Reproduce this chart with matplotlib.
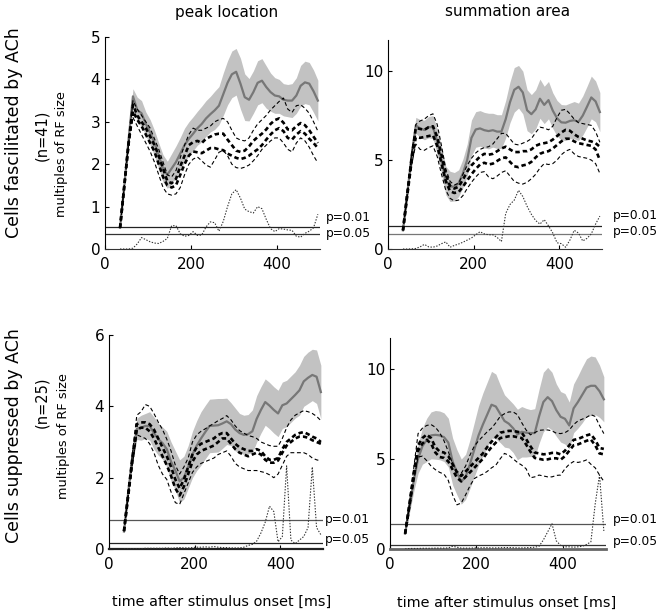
import numpy as np
import matplotlib
matplotlib.use("Agg")
import matplotlib.pyplot as plt

plt.rcParams["lines.scale_dashes"] = False
plt.rcParams["font.family"] = "DejaVu Sans"

# time after stimulus onset [ms], common grid for every trace
t = np.arange(35, 500, 10)

# ---------- top left: peak location, facilitated cells ----------
tl_mean = [0.5, 1.5, 2.6, 3.6, 3.28, 3.2, 2.95, 2.75, 2.5, 2.2, 1.9, 1.75,
           1.9, 2.05, 2.25, 2.45, 2.6, 2.72, 2.85, 2.95, 3.08, 3.18, 3.27, 3.38,
           3.65, 3.92, 4.12, 4.18, 3.9, 3.58, 3.52, 3.7, 3.92, 3.97, 3.82, 3.7,
           3.62, 3.6, 3.52, 3.5, 3.5, 3.62, 3.85, 3.93, 3.9, 3.72, 3.5]
tl_sem = [0.02, 0.05, 0.1, 0.18, 0.3, 0.3, 0.28, 0.3, 0.3, 0.3, 0.32, 0.32,
          0.35, 0.38, 0.38, 0.4, 0.4, 0.4, 0.4, 0.42, 0.42, 0.42, 0.45, 0.45,
          0.5, 0.52, 0.55, 0.55, 0.6, 0.55, 0.5, 0.5, 0.52, 0.52, 0.5, 0.45,
          0.42, 0.4, 0.38, 0.38, 0.4, 0.42, 0.48, 0.5, 0.5, 0.5, 0.48]
tl_thin_hi = [0.5, 1.5, 2.5, 3.5, 3.3, 3.15, 3.0, 2.85, 2.6, 2.35, 2.05, 1.75,
              1.7, 1.85, 2.15, 2.45, 2.7, 2.85, 2.8, 2.8, 2.85, 2.9, 3.0, 3.05,
              3.08, 3.0, 2.8, 2.62, 2.57, 2.55, 2.62, 2.8, 2.95, 3.05, 3.15, 3.28,
              3.38, 3.48, 3.56, 3.3, 3.22, 3.38, 3.4, 3.32, 3.2, 3.0, 2.78]
tl_thick_hi = [0.5, 1.5, 2.5, 3.4, 3.15, 3.0, 2.85, 2.65, 2.45, 2.2, 1.9, 1.6,
               1.55, 1.65, 1.95, 2.2, 2.45, 2.52, 2.55, 2.5, 2.6, 2.65, 2.7, 2.72,
               2.72, 2.58, 2.45, 2.32, 2.29, 2.32, 2.42, 2.55, 2.64, 2.72, 2.82, 2.95,
               3.04, 3.08, 2.98, 2.82, 2.8, 2.9, 2.97, 2.92, 2.8, 2.65, 2.5]
tl_thick_lo = [0.5, 1.5, 2.5, 3.25, 3.05, 2.9, 2.7, 2.5, 2.3, 2.0, 1.7, 1.5,
               1.45, 1.5, 1.75, 2.0, 2.2, 2.3, 2.28, 2.26, 2.32, 2.38, 2.38, 2.35,
               2.33, 2.25, 2.2, 2.15, 2.12, 2.15, 2.2, 2.28, 2.35, 2.45, 2.58, 2.7,
               2.8, 2.85, 2.78, 2.62, 2.58, 2.7, 2.78, 2.72, 2.6, 2.5, 2.38]
tl_thin_lo = [0.5, 1.5, 2.5, 3.1, 2.9, 2.7, 2.5, 2.3, 2.05, 1.75, 1.45, 1.3,
              1.27, 1.3, 1.45, 1.75, 2.0, 2.12, 2.17, 2.08, 1.98, 1.93, 2.1, 2.28,
              2.33, 2.2, 2.0, 1.92, 1.9, 1.93, 1.98, 2.08, 2.2, 2.35, 2.45, 2.55,
              2.62, 2.62, 2.5, 2.35, 2.29, 2.5, 2.62, 2.55, 2.4, 2.2, 2.03]
tl_dots = [0.0, 0.0, 0.0, 0.02, 0.12, 0.27, 0.22, 0.17, 0.14, 0.13, 0.18, 0.25,
           0.55, 0.55, 0.36, 0.3, 0.32, 0.41, 0.32, 0.33, 0.52, 0.64, 0.62, 0.42,
           0.65, 1.0, 1.3, 1.4, 1.2, 0.94, 0.88, 0.85, 1.0, 0.95, 0.7, 0.48,
           0.41, 0.48, 0.47, 0.45, 0.44, 0.3, 0.28, 0.37, 0.42, 0.5, 0.82]

# ---------- top right: summation area, facilitated cells ----------
tr_mean = [1.05, 3.1, 5.2, 6.95, 6.78, 6.69, 6.85, 6.85, 6.05, 5.0, 3.85, 3.52,
           3.5, 3.7, 4.25, 5.0, 6.25, 6.72, 6.78, 6.68, 6.63, 6.68, 6.6, 6.6,
           7.3, 8.25, 8.95, 9.12, 8.8, 7.8, 7.58, 7.85, 8.45, 8.1, 8.37, 7.78,
           7.35, 7.12, 7.1, 7.2, 7.24, 7.15, 7.5, 8.0, 8.52, 8.3, 7.7]
tr_sem = [0.05, 0.2, 0.35, 0.45, 0.5, 0.55, 0.6, 0.65, 0.7, 0.75, 0.8, 0.85,
          0.8, 0.75, 0.8, 0.9, 1.0, 1.0, 1.0, 1.0, 1.0, 0.95, 0.95, 0.95,
          1.05, 1.15, 1.25, 1.2, 1.2, 1.15, 1.1, 1.1, 1.1, 1.05, 1.05, 1.0,
          1.0, 1.0, 1.0, 1.0, 1.05, 1.05, 1.1, 1.15, 1.2, 1.15, 1.1]
tr_thin_hi = [1.05, 3.2, 5.3, 7.0, 7.2, 7.3, 7.5, 7.6, 7.0, 5.8, 4.5, 3.8,
              3.6, 3.7, 4.2, 4.7, 5.1, 5.4, 5.6, 5.7, 5.75, 5.9, 6.2, 6.5,
              6.5, 6.2, 5.9, 5.85, 5.95, 6.05, 6.2, 6.55, 6.85, 6.8, 6.7, 6.9,
              7.4, 7.8, 7.85, 7.6, 7.3, 7.1, 7.05, 7.0, 6.95, 6.6, 6.0]
tr_thick_hi = [1.05, 3.1, 5.1, 6.8, 6.75, 6.7, 6.85, 6.9, 6.3, 5.3, 4.2, 3.55,
               3.4, 3.5, 3.9, 4.35, 4.7, 4.95, 5.2, 5.35, 5.3, 5.35, 5.5, 5.65,
               5.75, 5.6, 5.45, 5.45, 5.5, 5.5, 5.6, 5.8, 5.9, 5.95, 6.0, 6.15,
               6.35, 6.55, 6.7, 6.65, 6.45, 6.3, 6.2, 6.1, 6.05, 5.95, 5.75]
tr_thick_lo = [1.05, 3.0, 4.9, 6.3, 6.25, 6.3, 6.35, 6.4, 5.8, 4.8, 3.8, 3.25,
               3.15, 3.2, 3.5, 3.85, 4.2, 4.5, 4.75, 4.85, 4.75, 4.8, 4.95, 5.1,
               5.15, 4.9, 4.65, 4.6, 4.7, 4.75, 4.9, 5.15, 5.35, 5.45, 5.5, 5.65,
               5.85, 6.05, 6.2, 6.2, 6.05, 5.95, 5.9, 5.85, 5.8, 5.6, 5.0]
tr_thin_lo = [1.05, 2.9, 4.7, 5.9, 5.6, 5.55, 5.7, 5.8, 5.2, 4.2, 3.3, 2.85,
              2.7, 2.75, 3.0, 3.4, 3.75, 4.05, 4.3, 4.35, 4.05, 3.95, 4.1, 4.3,
              4.4, 4.1, 3.8, 3.7, 3.65, 3.75, 3.95, 4.2, 4.55, 4.8, 4.75, 4.8,
              5.0, 5.3, 5.5, 5.6, 5.35, 5.2, 5.15, 5.1, 5.0, 4.8, 4.25]
tr_dots = [0.0, 0.0, 0.01, 0.03, 0.12, 0.26, 0.12, 0.1, 0.17, 0.3, 0.4, 0.1,
           0.2, 0.28, 0.38, 0.5, 0.62, 0.8, 0.97, 0.85, 0.8, 0.8, 0.65, 0.42,
           2.0, 2.5, 2.75, 3.3, 2.95, 2.4, 1.95, 1.6, 1.4, 1.65, 1.3, 0.9,
           0.35, 0.3, 0.1, 0.5, 1.05, 0.9, 0.45, 0.6, 0.85, 1.4, 1.85]

# ---------- bottom left: peak location, suppressed cells ----------
bl_mean = [0.49, 1.6, 2.6, 3.37, 3.4, 3.45, 3.45, 3.25, 3.08, 2.97, 2.8, 2.45,
           2.2, 1.9, 2.0, 2.3, 2.65, 2.9, 3.1, 3.28, 3.45, 3.46, 3.47, 3.52,
           3.58, 3.5, 3.35, 3.25, 3.2, 3.22, 3.3, 3.65, 3.9, 4.12, 4.02, 3.9,
           3.8, 4.03, 4.08, 4.2, 4.32, 4.45, 4.7, 4.8, 4.88, 4.83, 4.4]
bl_sem = [0.05, 0.1, 0.2, 0.3, 0.35, 0.35, 0.4, 0.45, 0.45, 0.45, 0.5, 0.55,
          0.55, 0.6, 0.6, 0.6, 0.65, 0.7, 0.75, 0.75, 0.75, 0.75, 0.75, 0.7,
          0.65, 0.6, 0.6, 0.55, 0.55, 0.55, 0.6, 0.65, 0.65, 0.65, 0.65, 0.65,
          0.65, 0.65, 0.65, 0.65, 0.65, 0.7, 0.7, 0.72, 0.72, 0.75, 0.75]
bl_thin_hi = [0.5, 1.6, 2.7, 3.75, 3.85, 4.05, 4.0, 3.8, 3.56, 3.35, 3.08, 2.75,
              2.35, 2.1, 2.3, 2.55, 3.0, 3.2, 3.3, 3.37, 3.45, 3.52, 3.6, 3.66,
              3.74, 3.62, 3.45, 3.32, 3.25, 3.18, 3.15, 3.1, 3.0, 2.95, 2.9, 2.88,
              2.88, 3.1, 3.4, 3.62, 3.75, 3.82, 3.88, 3.85, 3.8, 3.72, 3.6]
bl_thick_hi = [0.5, 1.55, 2.6, 3.5, 3.55, 3.55, 3.5, 3.35, 3.1, 2.85, 2.6, 2.3,
               1.95, 1.7, 1.95, 2.3, 2.65, 2.85, 2.95, 3.0, 3.05, 3.1, 3.2, 3.25,
               3.25, 3.1, 2.95, 2.85, 2.8, 2.75, 2.75, 2.8, 2.75, 2.6, 2.5, 2.5,
               2.55, 2.8, 3.0, 3.1, 3.2, 3.25, 3.28, 3.22, 3.15, 3.1, 3.0]
bl_thick_lo = [0.5, 1.5, 2.5, 3.35, 3.4, 3.4, 3.3, 3.1, 2.85, 2.6, 2.35, 2.05,
               1.7, 1.5, 1.75, 2.1, 2.45, 2.65, 2.75, 2.8, 2.85, 2.9, 3.0, 3.1,
               3.1, 2.95, 2.8, 2.7, 2.65, 2.6, 2.65, 2.7, 2.65, 2.5, 2.42, 2.42,
               2.48, 2.7, 2.9, 3.0, 3.1, 3.15, 3.15, 3.12, 3.05, 3.0, 2.95]
bl_thin_lo = [0.5, 1.45, 2.4, 3.2, 3.15, 3.1, 2.95, 2.7, 2.35, 2.1, 1.95, 1.6,
              1.3, 1.25, 1.55, 1.85, 2.15, 2.3, 2.4, 2.45, 2.5, 2.55, 2.65, 2.7,
              2.75, 2.6, 2.4, 2.3, 2.25, 2.2, 2.2, 2.2, 2.17, 2.14, 2.08, 2.0,
              2.1, 2.35, 2.6, 2.7, 2.7, 2.7, 2.7, 2.65, 2.55, 2.5, 2.47]
bl_dots = [0.0, 0.01, 0.01, 0.01, 0.01, 0.02, 0.02, 0.02, 0.02, 0.02, 0.03, 0.02,
           0.03, 0.04, 0.03, 0.03, 0.04, 0.05, 0.05, 0.06, 0.05, 0.07, 0.05, 0.04,
           0.04, 0.03, 0.03, 0.03, 0.05, 0.1, 0.13, 0.22, 0.45, 0.75, 1.2, 1.05,
           0.2, 0.35, 2.33, 0.25, 0.15, 0.25, 0.35, 0.6, 2.3, 0.6, 0.4]

# ---------- bottom right: summation area, suppressed cells ----------
br_mean = [0.85, 2.3, 3.8, 5.0, 5.7, 6.05, 6.3, 6.33, 6.3, 6.2, 5.9, 4.85,
           4.25, 3.74, 4.0, 4.7, 5.5, 6.3, 6.9, 7.45, 8.0, 7.9, 7.5, 7.1,
           6.95, 6.7, 6.35, 6.5, 6.45, 6.43, 6.43, 7.35, 8.15, 8.42, 8.2, 7.7,
           7.33, 7.22, 6.85, 7.8, 8.15, 8.55, 8.95, 9.05, 9.05, 8.75, 8.3]
br_sem = [0.05, 0.3, 0.6, 0.8, 1.0, 1.2, 1.3, 1.35, 1.35, 1.35, 1.35, 1.3,
          1.25, 1.25, 1.25, 1.35, 1.5, 1.65, 1.75, 1.8, 1.85, 1.8, 1.6, 1.45,
          1.35, 1.35, 1.4, 1.4, 1.35, 1.3, 1.35, 1.5, 1.65, 1.65, 1.6, 1.45,
          1.4, 1.4, 1.3, 1.35, 1.45, 1.55, 1.6, 1.65, 1.6, 1.45, 1.25]
br_thin_hi = [0.85, 2.6, 4.5, 6.4, 6.7, 6.85, 6.9, 6.75, 6.45, 6.0, 5.4, 4.7,
              4.3, 4.2, 4.6, 5.2, 5.7, 6.0, 6.25, 6.5, 6.7, 7.0, 7.35, 7.5,
              7.6, 7.6, 7.45, 7.0, 6.6, 6.33, 6.45, 6.58, 6.6, 6.6, 6.55, 6.42,
              6.4, 6.45, 6.6, 6.9, 7.1, 7.2, 7.3, 7.45, 7.35, 6.85, 6.4]
br_thick_hi = [0.85, 2.5, 4.2, 5.75, 6.15, 6.35, 6.15, 5.65, 5.4, 5.35, 5.15, 4.7,
               4.25, 4.05, 4.3, 4.55, 4.8, 5.05, 5.3, 5.65, 5.95, 6.2, 6.45, 6.5,
               6.55, 6.55, 6.5, 6.45, 6.1, 5.7, 5.35, 5.3, 5.25, 5.27, 5.33, 5.33,
               5.25, 5.45, 5.75, 6.05, 6.1, 6.2, 6.3, 6.37, 6.05, 5.6, 5.55]
br_thick_lo = [0.85, 2.4, 4.0, 5.45, 5.85, 6.05, 5.85, 5.35, 5.1, 5.05, 4.85, 4.4,
               3.95, 3.75, 4.0, 4.25, 4.5, 4.75, 5.0, 5.35, 5.65, 5.9, 6.15, 6.2,
               6.25, 6.25, 6.2, 6.15, 5.8, 5.4, 5.05, 5.0, 4.95, 4.97, 5.03, 5.03,
               4.95, 5.15, 5.45, 5.75, 5.8, 5.9, 6.0, 6.07, 5.75, 5.3, 5.25]
br_thin_lo = [0.85, 2.3, 3.8, 5.1, 5.15, 4.9, 4.6, 4.4, 4.25, 4.15, 3.8, 3.0,
              2.45, 2.55, 3.0, 3.5, 3.9, 4.05, 4.15, 4.3, 4.5, 4.65, 5.0, 5.3,
              5.2, 5.0, 4.8, 4.65, 4.45, 3.95, 4.0, 4.1, 4.05, 4.0, 4.0, 4.08,
              4.1, 4.45, 4.7, 4.85, 4.8, 4.85, 4.94, 4.7, 4.5, 4.1, 3.75]
br_dots = [0.0, 0.03, 0.03, 0.03, 0.04, 0.04, 0.04, 0.05, 0.05, 0.05, 0.06, 0.15,
           0.1, 0.05, 0.05, 0.05, 0.06, 0.06, 0.07, 0.07, 0.06, 0.06, 0.07, 0.08,
           0.08, 0.07, 0.06, 0.06, 0.07, 0.08, 0.1, 0.15, 0.5, 0.95, 1.4, 0.45,
           0.2, 0.12, 0.12, 0.1, 0.12, 0.15, 0.25, 0.4, 2.5, 4.1, 1.0]

# significance thresholds (p=0.01, p=0.05) per panel
tl_p = [0.51, 0.35]
tr_p = [1.31, 0.84]
bl_p = [0.80, 0.16]
br_p = [1.40, 0.24]

W, H = 666, 613


def fx(x):
    return x / W


def fy(y):
    return 1 - y / H


def draw_panel(ax, mean, sem, thin_hi, thick_hi, thick_lo, thin_lo, dots,
               pvals, ytop, yticks, pcolors, bottom_lw=0.8, bottom_col="#333333"):
    mean = np.asarray(mean)
    sem = np.asarray(sem)
    ax.fill_between(t, mean - sem, mean + sem, color="#c2c2c2", lw=0, zorder=1)
    ax.plot(t, mean, color="#777777", lw=1.6, zorder=2)
    for y in (thin_hi, thin_lo):
        ax.plot(t, y, color="black", lw=0.8, dashes=(2.8, 1.9), zorder=3)
    for y in (thick_hi, thick_lo):
        ax.plot(t, y, color="black", lw=1.9, dashes=(3.2, 2.2), zorder=3)
    ax.plot(t, dots, color="#333333", lw=0.8, dashes=(1.0, 1.1), zorder=3)
    for p, c in zip(pvals, pcolors):
        ax.axhline(p, color=c, lw=0.9, zorder=2)

    ax.set_xlim(0, 500)
    ax.set_ylim(0, ytop)
    ax.set_xticks([0, 200, 400])
    ax.set_yticks(yticks)
    for s in ("top", "right"):
        ax.spines[s].set_visible(False)
    ax.spines["left"].set_linewidth(0.8)
    ax.spines["bottom"].set_linewidth(bottom_lw)
    ax.spines["bottom"].set_color(bottom_col)
    ax.tick_params(direction="in", length=3, width=0.8, labelsize=11)
    ax.tick_params(axis="x", pad=6)
    ax.tick_params(axis="y", pad=3.5)


fig = plt.figure(figsize=(W / 100, H / 100), dpi=100)

ax_tl = fig.add_axes([fx(105), fy(249), fx(320 - 105), (249 - 37) / H])
ax_tr = fig.add_axes([fx(388), fy(249), fx(602 - 388), (249 - 40) / H])
ax_bl = fig.add_axes([fx(109), fy(549), fx(323 - 109), (549 - 335) / H])
ax_br = fig.add_axes([fx(390), fy(549), fx(606 - 390), (549 - 338) / H])

draw_panel(ax_tl, tl_mean, tl_sem, tl_thin_hi, tl_thick_hi, tl_thick_lo,
           tl_thin_lo, tl_dots, tl_p, 5, [0, 1, 2, 3, 4, 5],
           ["#222222", "#333333"])
draw_panel(ax_tr, tr_mean, tr_sem, tr_thin_hi, tr_thick_hi, tr_thick_lo,
           tr_thin_lo, tr_dots, tr_p, 11.75, [0, 5, 10],
           ["#222222", "#777777"])
draw_panel(ax_bl, bl_mean, bl_sem, bl_thin_hi, bl_thick_hi, bl_thick_lo,
           bl_thin_lo, bl_dots, bl_p, 6, [0, 2, 4, 6],
           ["#555555", "#222222"], bottom_lw=1.6, bottom_col="#222222")
draw_panel(ax_br, br_mean, br_sem, br_thin_hi, br_thick_hi, br_thick_lo,
           br_thin_lo, br_dots, br_p, 11.7, [0, 5, 10],
           ["#555555", "#333333"], bottom_lw=2.0, bottom_col="#666666")

# column titles
fig.text(fx(227), fy(12), "peak location", ha="center", va="center", fontsize=11)
fig.text(fx(508), fy(12), "summation area", ha="center", va="center", fontsize=11)

# row labels
fig.text(fx(14), fy(133), "Cells fascilitated by ACh", rotation=90,
         ha="center", va="center", fontsize=12.5)
fig.text(fx(42), fy(135), "(n=41)", rotation=90, ha="center", va="center",
         fontsize=10.5)
fig.text(fx(62), fy(154), "multiples of RF size", rotation=90,
         ha="center", va="center", fontsize=9.3)
fig.text(fx(14), fy(436), "Cells suppressed by ACh", rotation=90,
         ha="center", va="center", fontsize=12.5)
fig.text(fx(42), fy(402), "(n=25)", rotation=90, ha="center", va="center",
         fontsize=10.5)
fig.text(fx(64), fy(436), "multiples of RF size", rotation=90,
         ha="center", va="center", fontsize=9.3)

# x labels
fig.text(fx(222), fy(602), "time after stimulus onset [ms]", ha="center",
         va="center", fontsize=10.4)
fig.text(fx(507), fy(603), "time after stimulus onset [ms]", ha="center",
         va="center", fontsize=10.4)

# p-value labels to the right of each panel
p_labels = [(326, 217, 233), (613, 216, 232), (325, 519, 540), (613, 519, 541)]
for x0, y01, y05 in p_labels:
    fig.text(fx(x0), fy(y01), "p=0.01", ha="left", va="center", fontsize=8.8)
    fig.text(fx(x0), fy(y05), "p=0.05", ha="left", va="center", fontsize=8.8)

fig.savefig("out.png", dpi=100)
